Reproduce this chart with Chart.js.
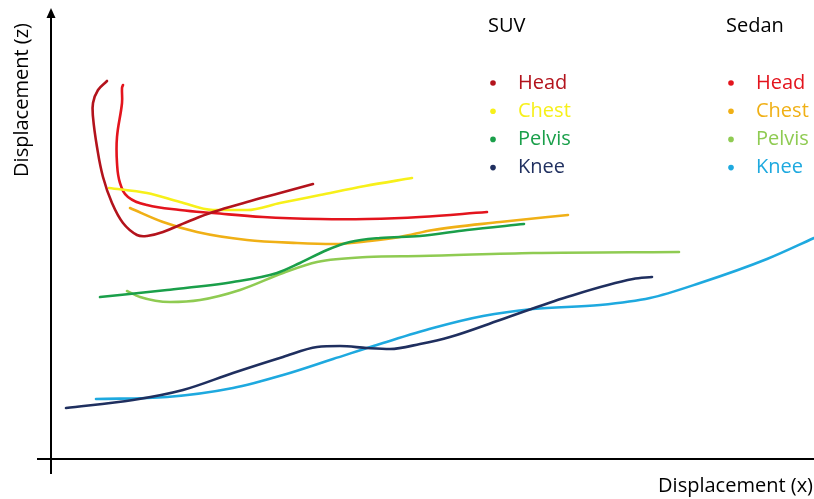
<!DOCTYPE html>
<html>
<head>
<meta charset="utf-8">
<script src="https://cdn.jsdelivr.net/npm/chart.js@4.4.1/dist/chart.umd.min.js"></script>
<style>
  html, body { margin: 0; padding: 0; background: #fff; }
  #wrap { width: 814px; height: 499px; position: relative; }
</style>
</head>
<body>
<div id="wrap"><canvas id="chart"></canvas></div>
<script>
// axis units: distance from the origin
const xMax = 763;
const yMax = 449;

const groups = ['SUV', 'Sedan'];
const parts = ['Head', 'Chest', 'Pelvis', 'Knee'];

const suvHead = [[56,378],[47,369],[42,356],[42,342],[46,312],[52,282],[61,256],[72,236],[86,224],[96,223],[112,227],[136,237],[162,247],[196,257],[229,266],[262,275]];
const suvChest = [[58,271],[96,266],[129,257],[162,249],[196,249],[229,256],[269,264],[314,273],[361,281]];
const suvPelvis = [[49,162],[116,169],[182,177],[226,186],[249,196],[276,209],[299,217],[329,221],[369,223],[416,229],[473,235]];
const suvKnee = [[15,51],[82,59],[132,69],[182,86],[232,102],[266,112],[289,113],[316,111],[339,110],[369,115],[399,122],[449,139],[516,162],[582,180],[601,182]];

const sedanHead = [[72,374],[71,371],[71,356],[66,322],[66,296],[69,276],[77,262],[96,254],[129,249],[162,246],[212,242],[269,240],[316,240],[369,242],[436,247]];
const sedanChest = [[79,251],[112,237],[146,227],[196,219],[246,216],[282,215],[319,218],[349,222],[382,229],[449,237],[517,244]];
const sedanPelvis = [[76,168],[89,162],[119,157],[149,159],[189,169],[232,186],[266,197],[316,202],[369,203],[482,206],[628,207]];
const sedanKnee = [[45,60],[116,62],[182,71],[232,84],[282,100],[332,116],[382,131],[432,143],[482,150],[549,154],[599,161],[649,176],[716,200],[763,221]];

const suvColors = ['#b3131c', '#f7f01a', '#1a9f4a', '#1f2f5f'];
const sedanColors = ['#e3141d', '#f0b016', '#8fcb52', '#1ea9df'];

const seriesData = [
  [suvHead, suvChest, suvPelvis, suvKnee],
  [sedanHead, sedanChest, sedanPelvis, sedanKnee]
];
const seriesColors = [suvColors, sedanColors];

const FONT = '"Open Sans", "Noto Sans", sans-serif';

const datasets = [];
groups.forEach((g, gi) => {
  parts.forEach((p, pi) => {
    const pts = seriesData[gi][pi];
    // head traces double back in x, so they can't use monotone interpolation
    const sorted = pts.every((q, i) => i === 0 || q[0] > pts[i - 1][0]);
    datasets.push({
      label: g + ' ' + p,
      data: pts.map(([x, y]) => ({ x, y })),
      borderColor: seriesColors[gi][pi],
      borderWidth: 2.6,
      showLine: true,
      pointRadius: 0,
      tension: 0.4,
      cubicInterpolationMode: sorted ? 'monotone' : 'default',
      fill: false,
      borderCapStyle: 'round'
    });
  });
});

const sketchAxes = {
  id: 'sketchAxes',
  beforeDatasetsDraw(chart) {
    const { ctx, scales } = chart;
    const ox = scales.x.getPixelForValue(0);
    const oy = scales.y.getPixelForValue(0);
    const top = scales.y.getPixelForValue(yMax);
    ctx.save();
    ctx.strokeStyle = '#000';
    ctx.fillStyle = '#000';
    ctx.lineWidth = 2;
    ctx.beginPath();
    ctx.moveTo(ox, oy + 15);
    ctx.lineTo(ox, top + 6);
    ctx.moveTo(ox - 14, oy);
    ctx.lineTo(chart.width, oy);
    ctx.stroke();
    ctx.beginPath();
    ctx.moveTo(ox, top - 2);
    ctx.lineTo(ox - 4.5, top + 8);
    ctx.lineTo(ox + 4.5, top + 8);
    ctx.closePath();
    ctx.fill();

    ctx.font = '20px ' + FONT;
    ctx.textBaseline = 'middle';
    ctx.textAlign = 'right';
    ctx.fillText('Displacement (x)', chart.width - 1, oy + 27);
    ctx.translate(22, 100);
    ctx.rotate(-Math.PI / 2);
    ctx.textAlign = 'center';
    ctx.fillText('Displacement (z)', 0, 0);
    ctx.restore();
  }
};

const sketchLegend = {
  id: 'sketchLegend',
  afterDraw(chart) {
    const { ctx } = chart;
    const cols = [488, 726];
    ctx.save();
    ctx.textBaseline = 'middle';
    ctx.textAlign = 'left';
    ctx.font = '20px ' + FONT;
    groups.forEach((g, gi) => {
      const x0 = cols[gi];
      ctx.fillStyle = '#000';
      ctx.fillText(g, x0, 26);
      parts.forEach((p, pi) => {
        const y = 83 + pi * 28.2;
        ctx.fillStyle = seriesColors[gi][pi];
        ctx.beginPath();
        ctx.arc(x0 + 5, y, 2.8, 0, Math.PI * 2);
        ctx.fill();
        ctx.fillText(p, x0 + 30, y);
      });
    });
    ctx.restore();
  }
};

new Chart(document.getElementById('chart'), {
  type: 'scatter',
  data: { datasets },
  options: {
    responsive: true,
    maintainAspectRatio: false,
    animation: false,
    layout: { padding: { left: 51, top: 10, right: 0, bottom: 40 } },
    plugins: { legend: { display: false }, tooltip: { enabled: false } },
    scales: {
      x: { type: 'linear', min: 0, max: xMax, display: false },
      y: { type: 'linear', min: 0, max: yMax, display: false }
    },
    clip: false
  },
  plugins: [sketchAxes, sketchLegend]
});
</script>
</body>
</html>
